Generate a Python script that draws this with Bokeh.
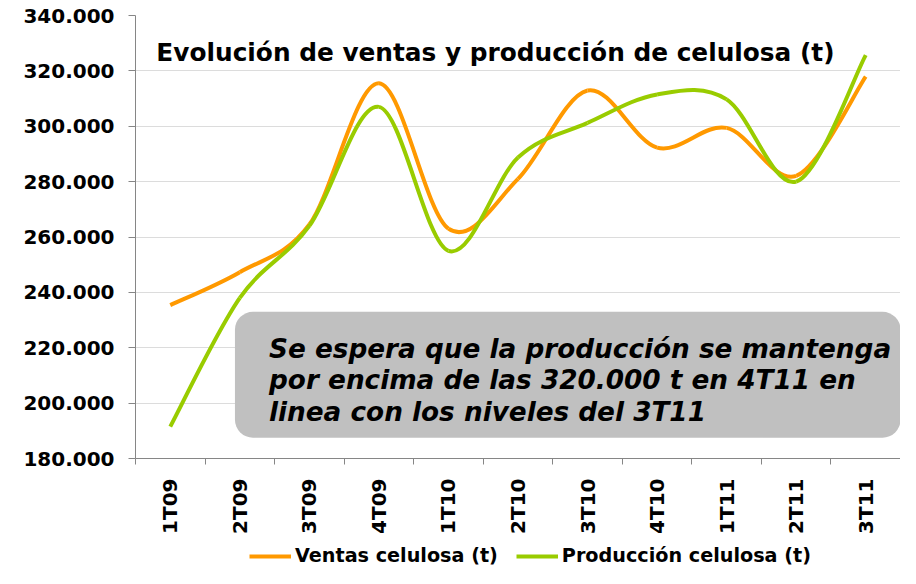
from bokeh.plotting import figure
from bokeh.layouts import column
from bokeh.models import (FixedTicker, Legend, LegendItem, Label, BoxAnnotation,
                          ColumnDataSource, Range1d)
from bokeh.embed import file_html
from bokeh.resources import INLINE
import math

quarters = ["1T09", "2T09", "3T09", "4T09", "1T10", "2T10", "3T10", "4T10", "1T11", "2T11", "3T11"]
ventas = [235400, 247300, 264500, 315500, 263000, 281000, 312900, 292300, 299400, 282100, 317900]
produccion = [191500, 238000, 264000, 307000, 255000, 288700, 301200, 311500, 309700, 280000, 325700]
y_ticks = [180000, 200000, 220000, 240000, 260000, 280000, 300000, 320000, 340000]
y_tick_labels = ["180.000", "200.000", "220.000", "240.000", "260.000", "280.000", "300.000", "320.000", "340.000"]
title_text = "Evolución de ventas y producción de celulosa (t)"
note_lines = ["Se espera que la producción se mantenga",
              "por encima de las 320.000 t en 4T11 en",
              "linea con los niveles del 3T11"]
series_names = ["Ventas celulosa (t)", "Producción celulosa (t)"]

FONT = "DejaVu Sans"
ORANGE = "#FF9900"
GREEN = "#99CC00"
AXIS_GRAY = "#868686"

x_range = Range1d(-0.5, 10.5)
p = figure(width=900, height=540, output_backend="svg", toolbar_location=None,
           x_range=x_range, y_range=Range1d(180000, 340000),
           min_border_left=135, min_border_right=0, min_border_top=15, min_border_bottom=82)
p.outline_line_color = None
p.xgrid.grid_line_color = None
p.ygrid.grid_line_color = "#b8b8b8"
p.ygrid.grid_line_dash = "1 1"
p.ygrid.grid_line_width = 1

# y axis
p.yaxis.ticker = FixedTicker(ticks=y_ticks)
p.yaxis.major_label_overrides = {t: l for t, l in zip(y_ticks, y_tick_labels)}
p.yaxis.axis_line_color = AXIS_GRAY
p.yaxis.major_tick_line_color = AXIS_GRAY
p.yaxis.major_tick_out = 7
p.yaxis.major_tick_in = 0
p.yaxis.minor_tick_line_color = None
p.yaxis.major_label_standoff = 14
p.yaxis.major_label_text_font = FONT
p.yaxis.major_label_text_font_style = "bold"
p.yaxis.major_label_text_font_size = "20px"
p.yaxis.major_label_text_color = "black"

# x axis
xs = list(range(len(quarters)))
bounds = [i - 0.5 for i in range(len(quarters) + 1)]
p.xaxis.ticker = FixedTicker(ticks=xs, minor_ticks=bounds)
p.xaxis.major_label_overrides = {i: q for i, q in zip(xs, quarters)}
p.xaxis.major_label_orientation = math.pi / 2
p.xaxis.axis_line_color = AXIS_GRAY
p.xaxis.major_tick_line_color = None
p.xaxis.minor_tick_line_color = AXIS_GRAY
p.xaxis.minor_tick_out = 6
p.xaxis.minor_tick_in = 0
p.xaxis.major_label_standoff = 14
p.xaxis.major_label_text_font = FONT
p.xaxis.major_label_text_font_style = "bold"
p.xaxis.major_label_text_font_size = "20px"
p.xaxis.major_label_text_color = "black"


def smooth_segments(x, y):
    n = len(x)
    d = dict(x0=[], y0=[], x1=[], y1=[], cx0=[], cy0=[], cx1=[], cy1=[])
    for i in range(n - 1):
        im1 = max(i - 1, 0)
        ip2 = min(i + 2, n - 1)
        d["x0"].append(x[i]); d["y0"].append(y[i])
        d["x1"].append(x[i + 1]); d["y1"].append(y[i + 1])
        d["cx0"].append(x[i] + (x[i + 1] - x[im1]) / 6)
        d["cy0"].append(y[i] + (y[i + 1] - y[im1]) / 6)
        d["cx1"].append(x[i + 1] - (x[ip2] - x[i]) / 6)
        d["cy1"].append(y[i + 1] - (y[ip2] - y[i]) / 6)
    return ColumnDataSource(d)


# gray note box
box = BoxAnnotation(left=0.93, right=10.5, bottom=187500, top=233000,
                    fill_color="#c0c0c0", fill_alpha=1, line_color=None,
                    border_radius=18, level="underlay")
p.add_layout(box)

p.bezier(x0="x0", y0="y0", x1="x1", y1="y1", cx0="cx0", cy0="cy0", cx1="cx1", cy1="cy1",
         source=smooth_segments(xs, ventas), line_color=ORANGE, line_width=4)
p.bezier(x0="x0", y0="y0", x1="x1", y1="y1", cx0="cx0", cy0="cy0", cx1="cx1", cy1="cy1",
         source=smooth_segments(xs, produccion), line_color=GREEN, line_width=4)

p.add_layout(Label(x=-0.2, y=326600, text=title_text, text_font=FONT, text_font_style="bold",
                   text_font_size="24.8px", text_color="black", text_baseline="alphabetic"))

for line, yv in zip(note_lines, [219600, 208300, 196900]):
    p.add_layout(Label(x=1.42, y=yv, text=line, text_font=FONT, text_font_style="bold italic",
                       text_font_size="26.3px", text_color="black", text_baseline="alphabetic"))

# legend strip below the chart
lg = figure(width=900, height=28, output_backend="svg", toolbar_location=None,
            x_range=x_range, y_range=Range1d(0, 1),
            x_axis_location=None, y_axis_location=None,
            min_border_left=0, min_border_right=0, min_border_top=0, min_border_bottom=0)
lg.outline_line_color = None
lg.xgrid.grid_line_color = None
lg.ygrid.grid_line_color = None
# same series drawn off-range (not visible) so that the legend can show their line styles
l_v = lg.line(xs, ventas, line_color=ORANGE, line_width=4)
l_p = lg.line(xs, produccion, line_color=GREEN, line_width=4)
legend = Legend(items=[LegendItem(label=series_names[0], renderers=[l_v]),
                       LegendItem(label=series_names[1], renderers=[l_p])],
                orientation="horizontal", location=(114, 1),
                border_line_color=None, background_fill_alpha=0,
                label_text_font=FONT, label_text_font_style="bold", label_text_font_size="19.2px",
                label_text_color="black",
                glyph_width=42, glyph_height=20, spacing=18, label_standoff=4,
                padding=2, margin=0)
lg.add_layout(legend, "center")

open("out.html", "w").write(file_html(column(p, lg, spacing=0), INLINE))
